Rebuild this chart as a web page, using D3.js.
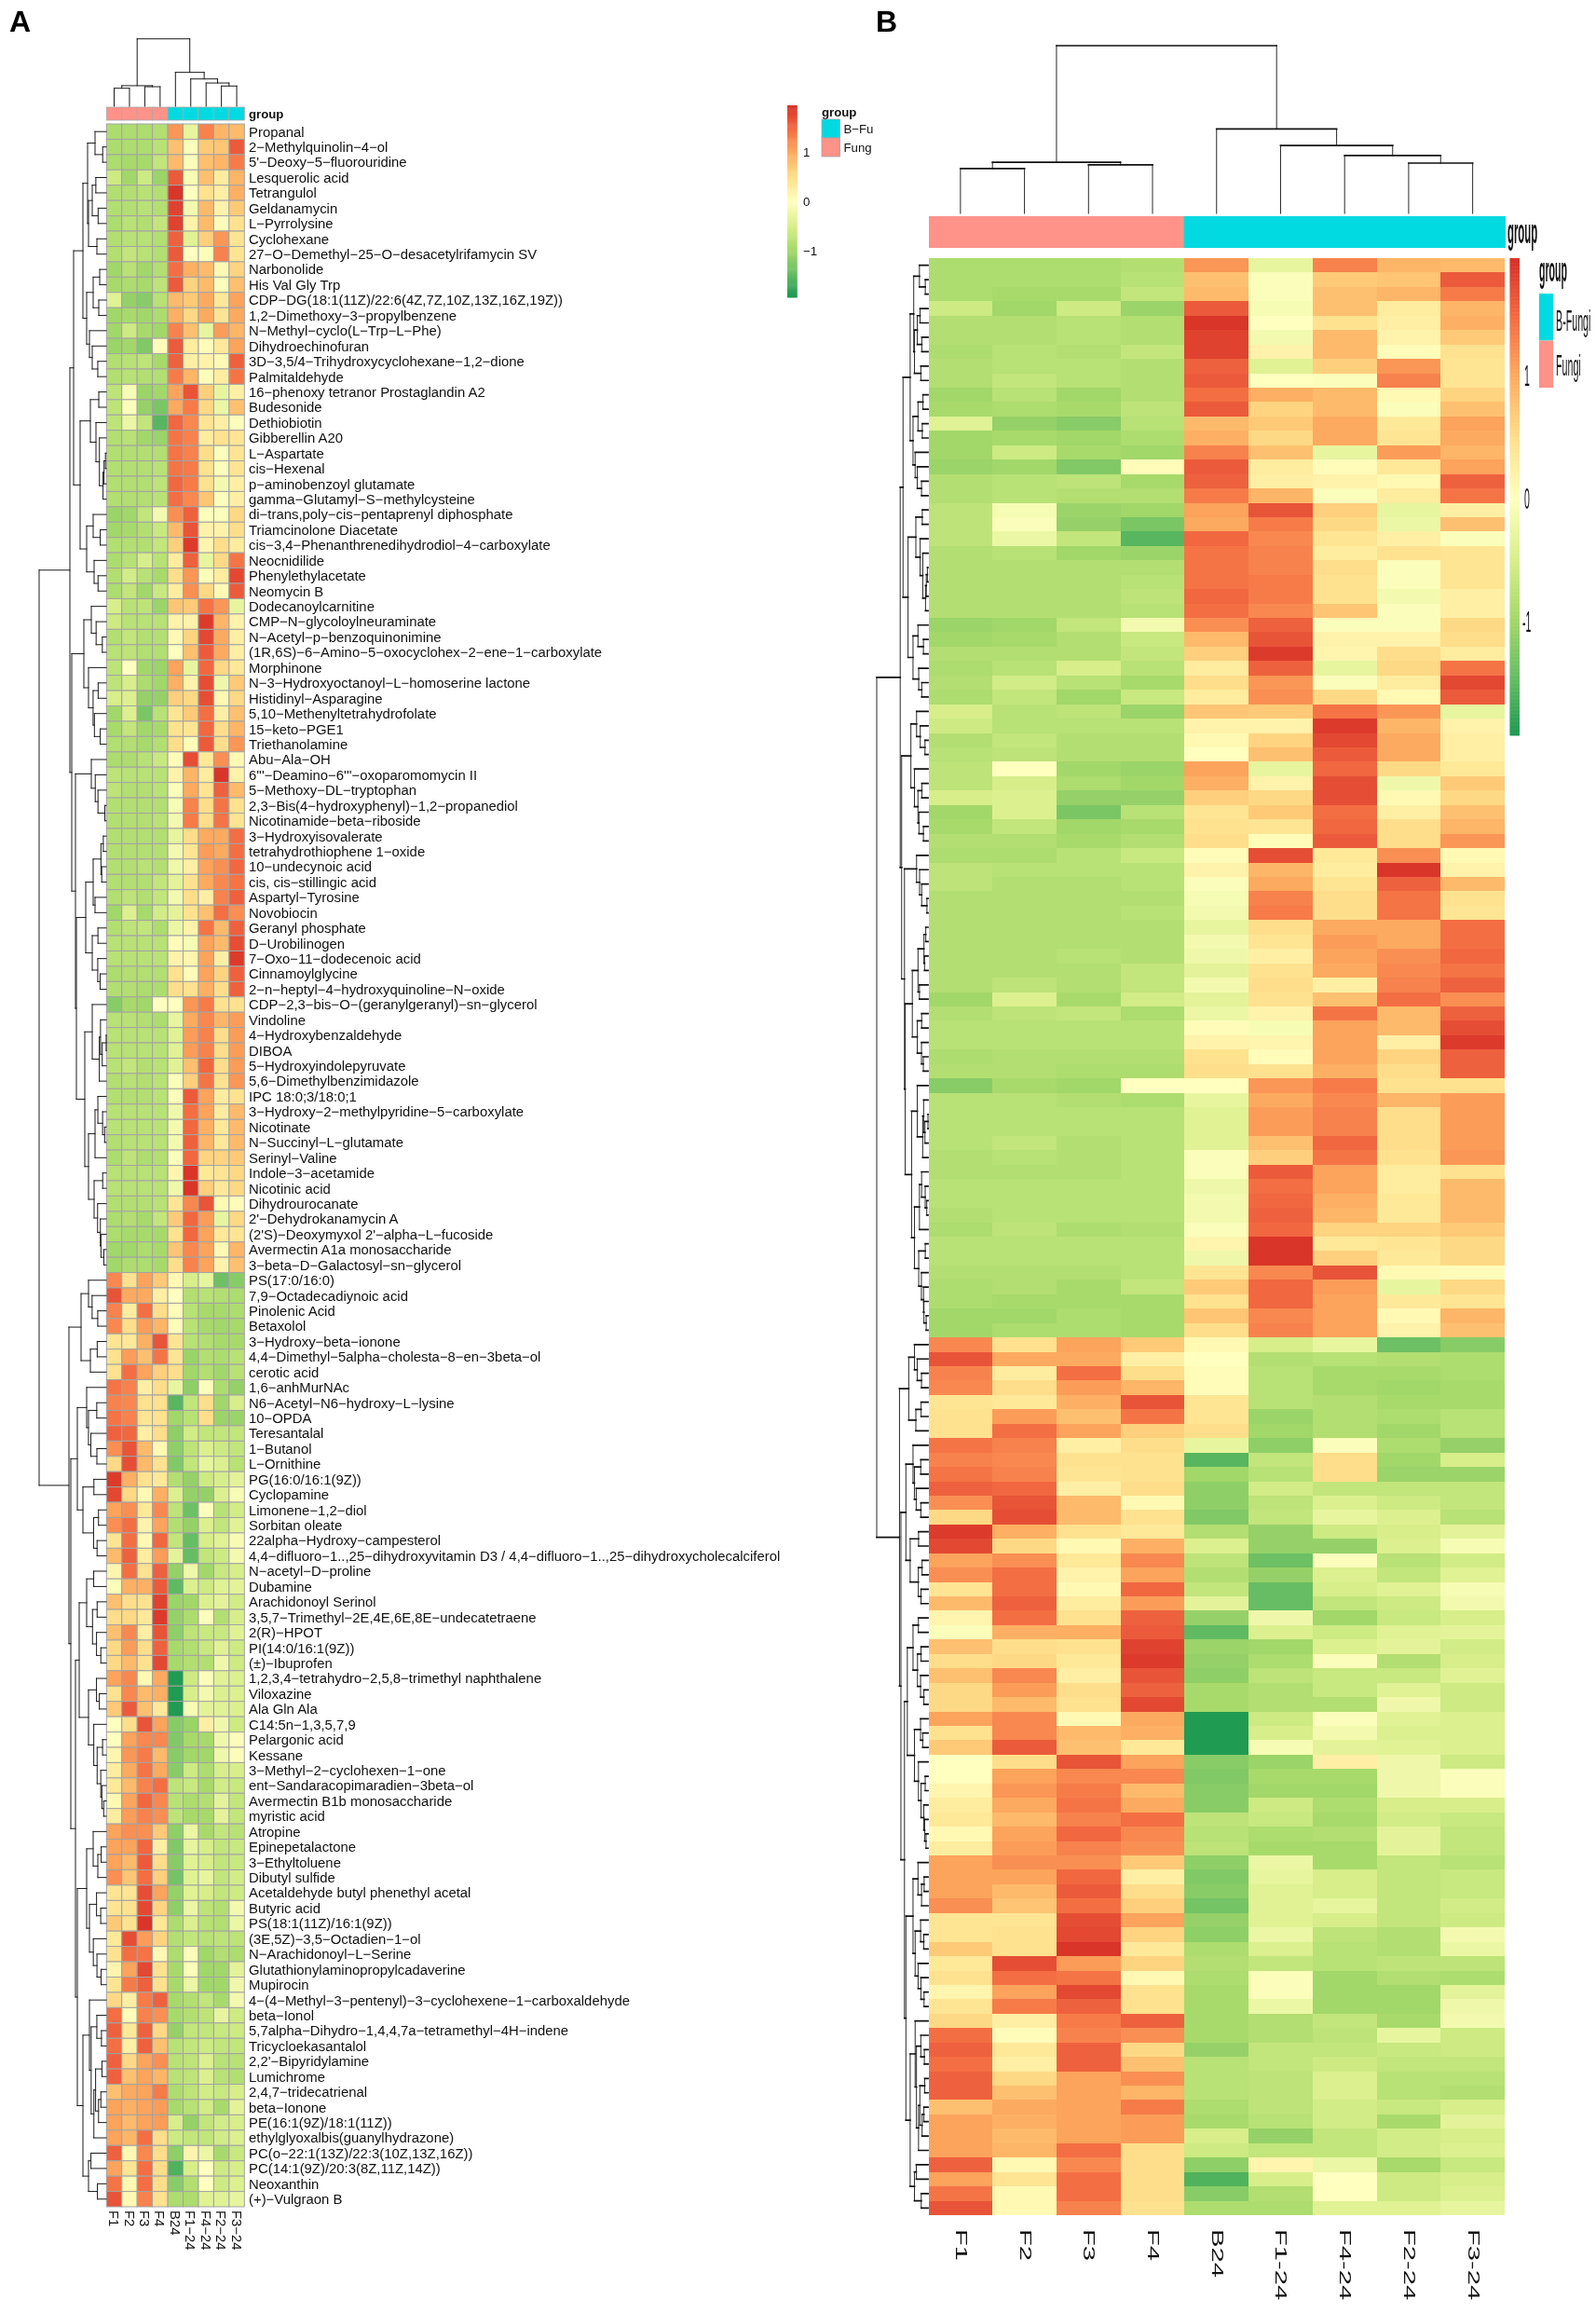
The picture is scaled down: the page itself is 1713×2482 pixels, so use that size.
<!DOCTYPE html>
<html><head><meta charset="utf-8">
<script src="https://cdn.jsdelivr.net/npm/d3@7"></script>
<style>html,body{margin:0;padding:0;background:#fff}svg{display:block;filter:blur(.35px)}text{font-family:"Liberation Sans",Arial,sans-serif;fill:#111}</style>
</head><body><svg id="c" width="1713" height="2482"></svg>
<script>
const colLabels=["F1","F2","F3","F4","B24","F1-24","F4-24","F2-24","F3-24"];
const colGroups=["Fungi","Fungi","Fungi","Fungi","B-Fungi","B-Fungi","B-Fungi","B-Fungi","B-Fungi"];
const rowLabels=["Propanal","2-Methylquinolin-4-ol","5'-Deoxy-5-fluorouridine","Lesquerolic acid","Tetrangulol","Geldanamycin","L-Pyrrolysine","Cyclohexane","27-O-Demethyl-25-O-desacetylrifamycin SV","Narbonolide","His Val Gly Trp","CDP-DG(18:1(11Z)/22:6(4Z,7Z,10Z,13Z,16Z,19Z))","1,2-Dimethoxy-3-propylbenzene","N-Methyl-cyclo(L-Trp-L-Phe)","Dihydroechinofuran","3D-3,5/4-Trihydroxycyclohexane-1,2-dione","Palmitaldehyde","16-phenoxy tetranor Prostaglandin A2","Budesonide","Dethiobiotin","Gibberellin A20","L-Aspartate","cis-Hexenal","p-aminobenzoyl glutamate","gamma-Glutamyl-S-methylcysteine","di-trans,poly-cis-pentaprenyl diphosphate","Triamcinolone Diacetate","cis-3,4-Phenanthrenedihydrodiol-4-carboxylate","Neocnidilide","Phenylethylacetate","Neomycin B","Dodecanoylcarnitine","CMP-N-glycoloylneuraminate","N-Acetyl-p-benzoquinonimine","(1R,6S)-6-Amino-5-oxocyclohex-2-ene-1-carboxylate","Morphinone","N-3-Hydroxyoctanoyl-L-homoserine lactone","Histidinyl-Asparagine","5,10-Methenyltetrahydrofolate","15-keto-PGE1","Triethanolamine","Abu-Ala-OH","6'''-Deamino-6'''-oxoparomomycin II","5-Methoxy-DL-tryptophan","2,3-Bis(4-hydroxyphenyl)-1,2-propanediol","Nicotinamide-beta-riboside","3-Hydroxyisovalerate","tetrahydrothiophene 1-oxide","10-undecynoic acid","cis, cis-stillingic acid","Aspartyl-Tyrosine","Novobiocin","Geranyl phosphate","D-Urobilinogen","7-Oxo-11-dodecenoic acid","Cinnamoylglycine","2-n-heptyl-4-hydroxyquinoline-N-oxide","CDP-2,3-bis-O-(geranylgeranyl)-sn-glycerol","Vindoline","4-Hydroxybenzaldehyde","DIBOA","5-Hydroxyindolepyruvate","5,6-Dimethylbenzimidazole","IPC 18:0;3/18:0;1","3-Hydroxy-2-methylpyridine-5-carboxylate","Nicotinate","N-Succinyl-L-glutamate","Serinyl-Valine","Indole-3-acetamide","Nicotinic acid","Dihydrourocanate","2'-Dehydrokanamycin A","(2'S)-Deoxymyxol 2'-alpha-L-fucoside","Avermectin A1a monosaccharide","3-beta-D-Galactosyl-sn-glycerol","PS(17:0/16:0)","7,9-Octadecadiynoic acid","Pinolenic Acid","Betaxolol","3-Hydroxy-beta-ionone","4,4-Dimethyl-5alpha-cholesta-8-en-3beta-ol","cerotic acid","1,6-anhMurNAc","N6-Acetyl-N6-hydroxy-L-lysine","10-OPDA","Teresantalal","1-Butanol","L-Ornithine","PG(16:0/16:1(9Z))","Cyclopamine","Limonene-1,2-diol","Sorbitan oleate","22alpha-Hydroxy-campesterol","4,4-difluoro-1..,25-dihydroxyvitamin D3 / 4,4-difluoro-1..,25-dihydroxycholecalciferol","N-acetyl-D-proline","Dubamine","Arachidonoyl Serinol","3,5,7-Trimethyl-2E,4E,6E,8E-undecatetraene","2(R)-HPOT","PI(14:0/16:1(9Z))","(±)-Ibuprofen","1,2,3,4-tetrahydro-2,5,8-trimethyl naphthalene","Viloxazine","Ala Gln Ala","C14:5n-1,3,5,7,9","Pelargonic acid","Kessane","3-Methyl-2-cyclohexen-1-one","ent-Sandaracopimaradien-3beta-ol","Avermectin B1b monosaccharide","myristic acid","Atropine","Epinepetalactone","3-Ethyltoluene","Dibutyl sulfide","Acetaldehyde butyl phenethyl acetal","Butyric acid","PS(18:1(11Z)/16:1(9Z))","(3E,5Z)-3,5-Octadien-1-ol","N-Arachidonoyl-L-Serine","Glutathionylaminopropylcadaverine","Mupirocin","4-(4-Methyl-3-pentenyl)-3-cyclohexene-1-carboxaldehyde","beta-Ionol","5,7alpha-Dihydro-1,4,4,7a-tetramethyl-4H-indene","Tricycloekasantalol","2,2'-Bipyridylamine","Lumichrome","2,4,7-tridecatrienal","beta-Ionone","PE(16:1(9Z)/18:1(11Z))","ethylglyoxalbis(guanylhydrazone)","PC(o-22:1(13Z)/22:3(10Z,13Z,16Z))","PC(14:1(9Z)/20:3(8Z,11Z,14Z))","Neoxanthin","(+)-Vulgraon B"];
const matrix=[
[-.9,-.9,-.9,-.85,1.15,-.3,1.3,.9,.85],
[-.9,-.9,-.9,-.8,.8,-.05,.7,.75,1.6],
[-.9,-.95,-.95,-.7,.85,-.05,.8,.9,1.35],
[-.6,-1,-.6,-1.05,1.6,-.1,.8,.3,.9],
[-.85,-.85,-.8,-.85,1.9,0,.45,.25,.95],
[-.85,-.85,-.8,-.85,1.8,-.15,.85,.2,.7],
[-.9,-.8,-.85,-.7,1.8,.2,.85,.05,.45],
[-.85,-.8,-.8,-.85,1.55,-.4,.65,1.15,.4],
[-.85,-.7,-.8,-.85,1.6,0,-.05,1.3,.4],
[-1,-.8,-1,-.85,1.45,.95,.85,.1,.6],
[-.95,-.9,-.95,-.75,1.6,.6,.85,-.05,.8],
[-.4,-1.1,-1.2,-.8,.85,.7,1,.35,1.05],
[-1,-.95,-1,-.9,.95,.55,1,.4,1],
[-1,-.6,-.95,-1,1.3,.8,-.3,1.1,.9],
[-1.05,-1,-1.25,.05,1.6,.3,.05,.35,1.05],
[-.85,-.8,-.75,-.95,1.55,.25,.2,.1,1.55],
[-.85,-.8,-.85,-.85,1.35,.9,-.05,.3,1.4],
[-.75,-.1,-1.05,-1,1.05,1.65,.65,-.3,.25],
[-.75,-.05,-1.1,-1.3,1,1.35,.55,-.25,.8],
[-.75,-.25,-.7,-1.55,1.5,1.25,.4,.25,-.05],
[-.85,-.8,-1,-1.05,1.4,1.3,.3,.45,.4],
[-.85,-.85,-.85,-.85,1.4,1.3,.5,-.05,.4],
[-.85,-.85,-.85,-.8,1.4,1.35,.45,-.05,.4],
[-.85,-.85,-.85,-.75,1.5,1.35,.45,-.15,.25],
[-.85,-.85,-.85,-.8,1.45,1.25,.75,-.05,.25],
[-1.05,-1,-.7,-.15,1.2,1.55,-.05,-.05,.55],
[-1,-.95,-.85,-.65,.85,1.65,.2,.2,.5],
[-.85,-.85,-.85,-.7,.65,1.85,.15,.5,.3],
[-.9,-.8,-.5,-.8,.3,1.55,-.3,.55,1.4],
[-.85,-.55,-.8,-.95,.5,1.15,-.05,.3,1.75],
[-.9,-.7,-1,-.65,.3,1.2,.55,.1,1.6],
[-.5,-.8,-.75,-1.05,.75,.7,1.4,1.15,-.3],
[-.6,-.8,-.8,-.8,.2,.2,1.85,.9,.2],
[-.85,-.7,-.85,-.85,.1,.6,1.75,1,.25],
[-.8,-.75,-.85,-.85,0,.8,1.6,1,.25],
[-.75,0,-1,-1.05,1.05,-.3,1.5,.55,.35],
[-.75,-.5,-.9,-1,.95,.2,1.7,-.2,.7],
[-.5,-.45,-1.1,-1.1,.65,.55,1.7,.1,.55],
[-1,-.45,-1.3,-.8,.4,.7,1.45,.25,.8],
[-.95,-.7,-1,-.95,.45,.4,1.5,.5,.9],
[-.85,-.85,-.95,-.85,.5,.05,1.6,.5,1.15],
[-.9,-.9,-.8,-.65,.05,1.7,.35,1.2,.1],
[-.75,-.8,-.8,-.8,.2,.9,.3,1.9,.2],
[-.75,-.85,-.85,-.8,-.05,1,.4,1.55,.85],
[-.85,-.85,-.85,-.85,-.1,1.3,.5,1.4,.45],
[-.85,-.85,-.85,-.8,-.15,1.35,.5,1.4,.4],
[-.85,-.85,-.85,-.85,-.3,.5,1,1,1.45],
[-.85,-.85,-.85,-.85,-.15,.4,1.1,1,1.45],
[-.85,-.85,-.8,-.85,-.2,.25,1.05,1.2,1.5],
[-.85,-.85,-.85,-.7,-.35,.45,1,1.25,1.4],
[-.85,-.75,-.85,-.7,-.15,.5,.25,1.3,1.55],
[-1,-.45,-.95,-.55,-.35,.45,.8,1.45,1.2],
[-.85,-.75,-.7,-.9,-.25,.2,1.4,.85,1.55],
[-.8,-.8,-.8,-.8,.05,-.1,1.05,.85,1.7],
[-.8,-.8,-.8,-.8,.2,.15,1.05,.25,1.85],
[-.9,-.85,-.85,-.85,.45,.05,1.05,.6,1.55],
[-.85,-.85,-.9,-.9,.5,.45,.95,.5,1.55],
[-1.2,-.95,-1,0,0,1.15,1.35,.45,.45],
[-.8,-.8,-.85,-.9,-.3,1,1.25,.9,1.1],
[-.8,-.8,-.8,-.8,-.4,1.1,1.3,.5,1.1],
[-.8,-.8,-.8,-.8,-.4,1.1,1.3,.5,1.1],
[-.8,-.7,-.85,-.8,-.4,.8,1.5,.5,1.1],
[-.85,-.8,-.85,-.8,-.05,.65,1.4,.45,1.15],
[-.85,-.85,-.85,-.8,-.05,1.6,1.05,.3,.45],
[-.8,-.8,-.8,-.8,-.2,1.45,1.05,.3,.85],
[-.8,-.8,-.8,-.8,-.15,1.5,.95,.35,.85],
[-.85,-.8,-.8,-.8,-.15,1.55,.9,.35,.85],
[-.9,-.75,-.9,-.85,-.05,1.5,.6,.6,.7],
[-.8,-.8,-.8,-.8,.15,1.9,.35,.4,.55],
[-.8,-.8,-.8,-.8,-.2,1.9,.65,.35,.55],
[-.85,-.85,-.85,-.8,.4,1.25,1.65,.1,.05],
[-.9,-.85,-.95,-.7,.7,1.5,1.1,-.3,.55],
[-.9,-.95,-.95,-.95,.45,1.5,1.05,.35,.4],
[-1,-1,-.9,-.95,.75,1.25,1.05,.1,.9],
[-1,-.9,-.9,-.95,.5,1.3,1.05,.2,.8],
[1.25,.45,1.05,.7,.1,-.5,-.3,-1.4,-1.2],
[1.65,1,1,.25,0,-.85,-.8,-.85,-.9],
[1.3,.3,1.45,.5,.05,-.8,-.95,-.95,-.9],
[1.25,.5,1.1,.9,.05,-.8,-.95,-1,-.95],
[.4,.35,.95,1.65,.4,-.8,-.85,-.95,-.95],
[.45,1.1,.8,1.4,.4,-1.05,-.85,-.9,-.8],
[.45,1.45,1.05,.65,.5,-1,-.85,-1,-.8],
[1.4,1.3,.25,.5,-.3,-1.15,-.05,-.9,-1.1],
[1.3,1.25,.45,.45,-1.55,-.7,.5,-1,-.5],
[1.4,1.3,.4,.45,-1,-.8,.5,-1.05,-1.05],
[1.55,1.5,.25,.5,-1.15,-.55,-.7,-.7,-.7],
[1.2,1.65,.85,.1,-1.15,-.75,-.45,-.6,-.7],
[.55,1.7,.85,.45,-1.25,-.7,-.3,-.45,-.8],
[1.85,.95,.45,.35,-.85,-1.1,-.6,-.5,-.35],
[1.75,.55,.1,.95,-.45,-1.1,-1.1,-.45,-.1],
[1.05,1.2,.35,1.25,-.75,-1.4,-.05,-.8,-.55],
[1.2,1.45,.2,1.05,-.85,-1.1,-.45,-.7,-.4],
[.4,1.45,.1,1.5,-.7,-1.45,-.5,-.4,-.1],
[.85,1.55,.3,1.1,-.35,-1.45,-.7,-.6,-.15],
[.15,1.45,.45,1.55,-1.1,-.2,-1,-.65,-.5],
[-.05,.95,.95,1.6,-1.5,-.45,-.6,-.4,-.35],
[.8,.5,.45,1.8,-1.05,-1,-.45,-.35,-.55],
[.5,.55,.35,1.85,-1.1,-.9,-.05,-.85,-.5],
[.8,1.25,.25,1.65,-1.15,-.75,-.65,-.65,-.4],
[.55,1.1,.5,1.55,-.95,-.85,-.65,-.4,-.6],
[.55,.85,.45,1.75,-.95,-.85,-.85,-.2,-.6],
[1.05,1.25,.1,1,-1.9,-.6,-.05,-.4,-.45],
[.45,1.25,.85,.95,-1.9,-.5,-.15,-.45,-.45],
[.7,1.6,.8,.35,-1.9,-.1,-.35,-.4,-.45],
[0,.5,1.65,1.05,-1.2,-1.05,.25,-.2,-.6],
[0,1.05,1.25,1.25,-1.25,-.95,-.95,-.2,-.05],
[.15,1.15,1.35,.85,-1.2,-1,-1,-.2,-.05],
[.3,1,1.4,1,-1.2,-.6,-.9,-.5,-.5],
[.35,.85,1.3,1.45,-.75,-.65,-.95,-.55,-.65],
[.1,1.05,1.5,1.25,-.8,-.9,-.85,-.35,-.7],
[.3,1.1,1.3,1.2,-.75,-.95,-.95,-.35,-.7],
[1.05,1.2,1.2,.7,-1.15,-.25,-.95,-.7,-.8],
[1.05,1.05,1.5,.25,-1.25,-.3,-.5,-.7,-.65],
[1.05,.85,1.6,.5,-1.2,-.4,-.5,-.7,-.65],
[1.2,.75,1.45,.65,-1.35,-.4,-.3,-.7,-.55],
[.4,.4,1.7,1.05,-1.1,-.4,-.5,-.7,-.6],
[.4,.45,1.75,.6,-1.15,-.25,-.75,-.85,-.15],
[.7,.45,1.9,.35,-.9,-.45,-.8,-.85,-.25],
[.35,1.7,1.1,.6,-.85,-.7,-.8,-.75,-.75],
[.45,1.45,1.4,.1,-.9,-.05,-1,-.85,-.9],
[.15,1.05,1.75,.45,-.95,-.05,-1,-1,-.35],
[.4,1.35,1.55,.45,-.95,-.25,-1,-1,-.2],
[.55,.25,1.35,1.55,-.95,-.85,-.7,-.95,-.15],
[1.45,.05,1.3,1.2,-.95,-.85,-.75,-.3,-.6],
[1.55,.35,1.55,.55,-1.1,-.7,-.7,-.65,-.6],
[1.45,.25,1.55,.8,-.8,-.7,-.6,-.7,-.7],
[1.55,.55,1.05,1.2,-.8,-.75,-.45,-.8,-.8],
[1.55,.8,1.05,.9,-.8,-.75,-.45,-.8,-.85],
[.8,1,1.05,1.35,-.9,-.75,-.55,-.65,-.5],
[1.05,.95,1.05,1.1,-.95,-.8,-.55,-.95,-.35],
[1.05,.85,1.05,1.1,-.5,-1.1,-.7,-.55,-.5],
[1.05,.9,1.45,.5,-.6,-.7,-.7,-.55,-.45],
[1.55,.1,1.25,.5,-1.15,.15,-.25,-.95,-.65],
[1.05,.4,1.45,.5,-1.6,-.5,0,-.6,-.5],
[1.4,.1,1.45,.5,-1.2,-.85,0,-.6,-.45],
[1.65,.1,1.3,.45,-.9,-.9,-.4,-.4,-.3]];
const colorStops=[-1.94,-1.455,-.97,-.485,0,.485,.97,1.455,1.94];
const colorHex=["#1a9850","#66bd63","#a6d96a","#d9ef8b","#ffffbf","#fee08b","#fdae61","#f46d43","#d73027"];
const legendTicks=[1,0,-1];
const groupNames=["B-Fungi","Fungi"];
const groupHex={"B-Fungi":"#00dae0","Fungi":"#ff9289"};
// column tree: [height, left, right]; a plain number is a column index
const colTree=[1,[.305,[.267,0,1],[.29,2,3]],[.503,4,[.405,5,[.345,6,[.30,7,8]]]]];
// row tree: [height, left, right]; [height, n] is a block of n adjacent rows
const rowTree=[72,
 [39,
  [35,
   [25,[20,[12,3],[19,[15,4],[10,2]]],[21,[14,[7,2],[8,2]],[18,4]]],
   [28,[17,[8,2],[11,6]],[21,[14,3],[13,3]]]],
  [37,
   [24,[16,4],[19,6]],
   [33,[16,5],
    [32,[22,[14,6],[15,5]],[23,[15,6],[19,[12,5],[13,7]]]]]]],
 [40,
  [27,[19,4],[17,3]],
  [38,
   [31,[21,6],[25,6]],
   [33,
    [29,[21,7],[19,10]],
    [31,[21,[14,4],[18,7]],[25,[18,10],[19,4]]]]]]];

const svg=d3.select("#c");
const color=d3.scaleLinear().domain(colorStops).range(colorHex).clamp(true);
const rowIdx=d3.range(matrix.length), colIdx=d3.range(colLabels.length);
const minus=s=>s.replace(/-/g,"\u2212");

// ---- expand the row tree: blocks are resolved by adjacent complete-linkage merges of the values
function dist(a,b){return Math.hypot(...matrix[a].map((v,i)=>v-matrix[b][i]));}
function block(start,n,h){
  if(n===1) return {leaf:start,h:0};
  let cl=d3.range(n).map(i=>({leaf:start+i,h:0,first:start+i,last:start+i}));
  while(cl.length>1){
    let best=Infinity,bi=0;
    for(let i=0;i<cl.length-1;i++){
      let d=0;
      for(let a=cl[i].first;a<=cl[i].last;a++)for(let b=cl[i+1].first;b<=cl[i+1].last;b++)d=Math.max(d,dist(a,b));
      if(d<best){best=d;bi=i;}
    }
    const m={h:best,children:[cl[bi],cl[bi+1]],first:cl[bi].first,last:cl[bi+1].last};
    cl.splice(bi,2,m);
  }
  const k=h/cl[0].h;
  (function sc(nd){if(nd.children){nd.h*=k;nd.children.forEach(sc);}})(cl[0]);
  return cl[0];
}
let cursor=0;
function expand(t){
  if(t.length===2){const nd=block(cursor,t[1],t[0]);cursor+=t[1];return nd;}
  return {h:t[0],children:[expand(t[1]),expand(t[2])]};
}
const rowRoot=d3.hierarchy(expand(rowTree),d=>d.children);
function expandCol(t){return typeof t==="number"?{leaf:t,h:0}:{h:t[0],children:[expandCol(t[1]),expandCol(t[2])]};}
const colRoot=d3.hierarchy(expandCol(colTree),d=>d.children);

// returns [path of lines that run across the page, path of lines that run down the page]
function dendroPaths(root,pos,hgt,horizontal){
  let across="",down="";
  root.eachAfter(n=>{
    if(!n.children){n.c=pos(n.data.leaf);return;}
    n.c=(n.children[0].c+n.children[1].c)/2;
    const [a,b]=n.children, H=hgt(n.data.h), A=hgt(a.data.h), B=hgt(b.data.h);
    if(horizontal){
      across+=`M${A},${a.c}H${H}M${B},${b.c}H${H}`;
      down+=`M${H},${a.c}V${b.c}`;
    }else{
      down+=`M${a.c},${A}V${H}M${b.c},${B}V${H}`;
      across+=`M${a.c},${H}H${b.c}`;
    }
  });
  return [across,down];
}
function drawDendro(g,paths,wAcross,wDown,col){
  g.append("path").attr("d",paths[0]).attr("fill","none").attr("stroke",col).attr("stroke-width",wAcross).attr("stroke-linecap","square");
  g.append("path").attr("d",paths[1]).attr("fill","none").attr("stroke",col).attr("stroke-width",wDown).attr("stroke-linecap","square");
}
function stext(g,x,y,sx,sy,str,size,bold,rot){
  g.append("text").attr("transform",`translate(${x},${y})${rot?" rotate(90)":""} scale(${sx},${sy})`)
   .attr("font-size",size).attr("font-weight",bold?"bold":null).text(str);
}

// ================= Panel A
const A=svg.append("g");
const xA=d3.scaleBand().domain(colIdx).range([114.3,262.3]);
const yA=d3.scaleBand().domain(rowIdx).range([133,2368]);
A.append("g").selectAll("rect").data(colIdx).join("rect")
 .attr("x",d=>xA(d)).attr("y",115).attr("width",xA.bandwidth()).attr("height",14)
 .attr("fill",d=>groupHex[colGroups[d]]).attr("stroke","#a9a9a9").attr("stroke-width",.8);
A.append("text").attr("x",267).attr("y",127).attr("font-size",13.2).attr("font-weight","bold").text("group");
A.append("g").selectAll("g").data(rowIdx).join("g").each(function(r){
  d3.select(this).selectAll("rect").data(colIdx).join("rect")
   .attr("x",c=>xA(c)).attr("y",yA(r)).attr("width",xA.bandwidth()).attr("height",yA.bandwidth())
   .attr("fill",c=>color(matrix[r][c])).attr("stroke","#a3a3a3").attr("stroke-width",1);
});
A.append("g").selectAll("text").data(rowIdx).join("text")
 .attr("x",267).attr("y",r=>yA(r)+yA.bandwidth()/2).attr("dy",".36em").attr("font-size",14.9).text(r=>minus(rowLabels[r]));
A.append("g").selectAll("text").data(colIdx).join("text")
 .attr("transform",c=>`translate(${xA(c)+xA.bandwidth()/2},2372) rotate(90)`).attr("dy",".36em").attr("font-size",14.9).text(c=>minus(colLabels[c]));
const hRowA=d3.scaleLinear().domain([0,72]).range([114,42]);
const hColA=d3.scaleLinear().domain([0,1]).range([114,41.7]);
drawDendro(A,dendroPaths(rowRoot,r=>yA(r)+yA.bandwidth()/2,hRowA,true),1,1,"#1a1a1a");
drawDendro(A,dendroPaths(colRoot,c=>xA(c)+xA.bandwidth()/2,hColA,false),1,1,"#1a1a1a");
// legend A
const legA=d3.scaleLinear().domain([-1.93,1.95]).range([319,113]);
A.append("g").selectAll("rect").data(d3.range(-1.93,1.95,.02)).join("rect")
 .attr("x",845).attr("width",10.7).attr("y",d=>legA(d+.02)).attr("height",d=>legA(d)-legA(d+.02)+.5).attr("fill",d=>color(d));
A.append("g").selectAll("text").data(legendTicks).join("text")
 .attr("x",862).attr("y",d=>legA(d)).attr("dy",".36em").attr("font-size",13.2).text(d=>minus(String(d)));
A.append("text").attr("x",882).attr("y",125).attr("font-size",13.2).attr("font-weight","bold").text("group");
A.append("g").selectAll("rect").data(groupNames).join("rect")
 .attr("x",882).attr("y",(d,i)=>128+i*20).attr("width",19.5).attr("height",20)
 .attr("fill",d=>groupHex[d]).attr("stroke","#a3a3a3").attr("stroke-width",.8);
A.append("g").selectAll("text").data(["B-Fu","Fung"]).join("text")
 .attr("x",905.5).attr("y",(d,i)=>138+i*20).attr("dy",".36em").attr("font-size",13.2).text(d=>minus(d));

// ================= Panel B
const B=svg.append("g");
const xB=d3.scaleBand().domain(colIdx).range([996.5,1615]);
const yB=d3.scaleBand().domain(rowIdx).range([277,2377]);
B.append("g").attr("shape-rendering","crispEdges").selectAll("rect").data(colIdx).join("rect")
 .attr("x",d=>xB(d)).attr("y",232).attr("width",xB.bandwidth()+.5).attr("height",34)
 .attr("fill",d=>groupHex[colGroups[d]]);
B.append("g").attr("shape-rendering","crispEdges").selectAll("g").data(rowIdx).join("g").each(function(r){
  d3.select(this).selectAll("rect").data(colIdx).join("rect")
   .attr("x",c=>xB(c)).attr("y",yB(r)).attr("width",xB.bandwidth()+.4).attr("height",yB.bandwidth()+.4)
   .attr("fill",c=>color(matrix[r][c]));
});
const hRowB=d3.scaleLinear().domain([0,72]).range([996,941]);
const hColB=d3.scaleLinear().domain([0,1]).range([229,49]);
drawDendro(B,dendroPaths(rowRoot,r=>yB(r)+yB.bandwidth()/2,hRowB,true),1.7,.9,"#111");
drawDendro(B,dendroPaths(colRoot,c=>xB(c)+xB.bandwidth()/2,hColB,false),1.7,.9,"#111");
colIdx.forEach(c=>stext(B,xB(c)+xB.bandwidth()/2-5,2392,1.95,1.12,colLabels[c],15,false,true));
stext(B,1618,261,.86,2.8,"group",13.2,true);
const legB=d3.scaleLinear().domain([-1.92,1.95]).range([789,277]);
B.append("g").selectAll("rect").data(d3.range(-1.92,1.95,.01)).join("rect")
 .attr("x",1620.5).attr("width",10.5).attr("y",d=>legB(d+.01)).attr("height",d=>legB(d)-legB(d+.01)+.5).attr("fill",d=>color(d));
legendTicks.forEach(t=>stext(B,t<0?1634:1636,legB(t)+11,.8,2.33,String(t),13.2,false));
stext(B,1652,302,.8,2.8,"group",13.2,true);
B.append("g").selectAll("rect").data(groupNames).join("rect")
 .attr("x",1652).attr("y",(d,i)=>315+i*50.5).attr("width",15).attr("height",50.5).attr("fill",d=>groupHex[d]);
stext(B,1670,355,.81,2.4,"B-Fungi",13.2,false);
stext(B,1670,403,.81,2.4,"Fungi",13.2,false);

// panel letters
svg.append("text").attr("x",10).attr("y",34).attr("font-size",32).attr("font-weight","bold").style("fill","#000").text("A");
svg.append("text").attr("x",940).attr("y",34).attr("font-size",32).attr("font-weight","bold").style("fill","#000").text("B");
</script></body></html>
